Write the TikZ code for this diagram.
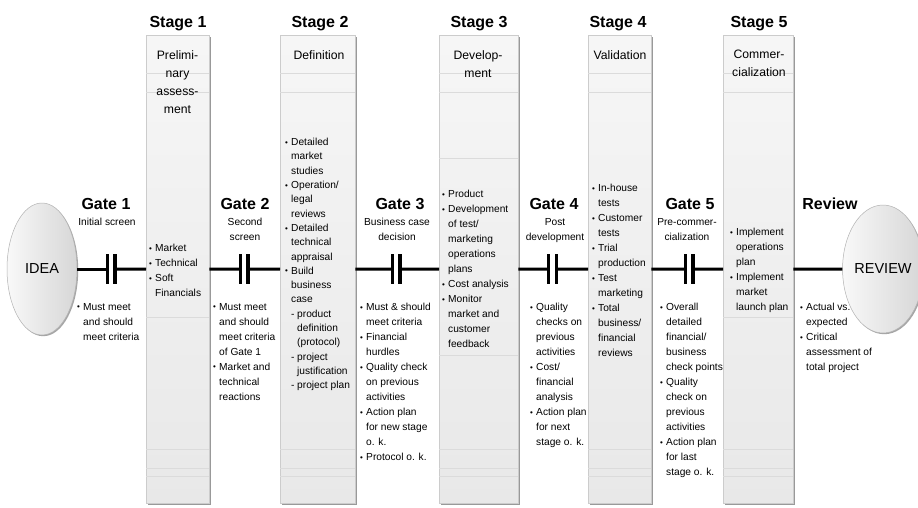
\documentclass[tikz,border=0pt]{standalone}
\usepackage{fontspec}
\setmainfont{Liberation Sans}
\usetikzlibrary{shapes.geometric,shadows}
\newcommand\mybul{\makebox[6pt][l]{\fontsize{8}{8}\selectfont\raisebox{0.3pt}{•}}}
\newcommand\mycont{\hspace*{6pt}}
\newcommand\mydash{\hspace*{6pt}\makebox[6pt][l]{-}}
\newcommand\mycontt{\hspace*{12pt}}
\tikzset{
  col/.style={draw=gray!40, line width=0.4pt, top color=gray!7, bottom color=gray!18,
    inner sep=0pt, anchor=north west, minimum height=468pt,
    drop shadow={shadow xshift=1.8pt, shadow yshift=-1.8pt, fill=gray!80, opacity=1}},
  faint/.style={draw=gray!28, line width=0.5pt},
  stagetitle/.style={font=\fontsize{16}{18}\selectfont\bfseries, anchor=base, inner sep=0pt},
  gatesub/.style={font=\fontsize{10.2}{15}\selectfont, align=center, anchor=north, inner sep=0pt},
  colhead/.style={font=\fontsize{12.2}{18}\selectfont, align=center, anchor=north, inner sep=0pt},
  body/.style={font=\fontsize{10.2}{15}\selectfont, align=left, anchor=north west, inner sep=0pt},
  oval/.style={ellipse, draw=gray!60, line width=0.5pt, left color=gray!5, right color=gray!32,
    inner sep=0pt, minimum width=70pt, font=\fontsize{14.5}{16}\selectfont,
    drop shadow={shadow xshift=1.2pt, shadow yshift=-1.2pt, fill=gray!70, opacity=1}},
  flow/.style={line width=3pt},
  gatebar/.style={line width=3.4pt}
}
\begin{document}
\begin{tikzpicture}[x=1pt,y=-1pt]
\useasboundingbox[fill=white] (0,0) rectangle (918,507);

% stage columns
\node[col, minimum width=63pt] (s1) at (146,35) {};
\node[col, minimum width=75pt] (s2) at (280,35) {};
\node[col, minimum width=79pt] (s3) at (439,35) {};
\node[col, minimum width=63pt] (s4) at (588,35) {};
\node[col, minimum width=70pt] (s5) at (723,35) {};
\foreach \c in {s1,s2,s3,s4,s5}{
  \foreach \yy in {73,92,449,468,476}{
    \draw[faint] (\c.west |- 0,\yy) -- (\c.east |- 0,\yy);
  }
}
\draw[faint] (s3.west |- 0,158) -- (s3.east |- 0,158);
\draw[faint] (s3.west |- 0,355) -- (s3.east |- 0,355);
\draw[faint] (s1.west |- 0,317) -- (s1.east |- 0,317);
\draw[faint] (s5.west |- 0,317) -- (s5.east |- 0,317);

% end ellipses
\node[oval, minimum height=132pt] (idea) at (42,269) {IDEA};
\node[oval, minimum height=128pt] (review) at (883,269) {REVIEW};

% gate positions
\coordinate (g1) at (111,269);
\coordinate (g2) at (244,269);
\coordinate (g3) at (396,269);
\coordinate (g4) at (552.5,269);
\coordinate (g5) at (689,269);

\foreach \a/\g/\b in {idea/g1/s1, s1/g2/s2, s2/g3/s3, s3/g4/s4, s4/g5/s5}{
  \draw[flow] (\a.east) -- ([xshift=-3.8pt]\g);
  \draw[flow] ([xshift=3.8pt]\g) -- (\b.west);
  \draw[gatebar] ([xshift=-3.8pt,yshift=15pt]\g) -- ([xshift=-3.8pt,yshift=-15pt]\g);
  \draw[gatebar] ([xshift=3.8pt,yshift=15pt]\g) -- ([xshift=3.8pt,yshift=-15pt]\g);
}
\draw[flow] (s5.east) -- (review.west);

% stage titles
\node[stagetitle] (t1) at (178,27) {Stage 1};
\node[stagetitle] (t2) at (320,27) {Stage 2};
\node[stagetitle] (t3) at (479,27) {Stage 3};
\node[stagetitle] (t4) at (618,27) {Stage 4};
\node[stagetitle] (t5) at (759,27) {Stage 5};

% column headers
\node[colhead] (h1) at (177.5,50) {Prelimi-\\nary\\assess-\\ment};
\node[colhead] (h2) at (319,50) {Definition};
\node[colhead] (h3) at (478,50) {Develop-\\ment};
\node[colhead] (h4) at (620,50) {Validation};
\node[colhead] (h5) at (759,50) {Commer-\\cialization};

% gate titles
\node[stagetitle] (gt1) at (106,209) {Gate 1};
\node[stagetitle] (gt2) at (245,209) {Gate 2};
\node[stagetitle] (gt3) at (400,209) {Gate 3};
\node[stagetitle] (gt4) at (554,209) {Gate 4};
\node[stagetitle] (gt5) at (690,209) {Gate 5};
\node[stagetitle] (gtr) at (830,209) {Review};

\node[gatesub] (gs1) at (107,218) {Initial screen};
\node[gatesub] (gs2) at (245,218) {Second\\screen};
\node[gatesub] (gs3) at (397,218) {Business case\\decision};
\node[gatesub] (gs4) at (555,218) {Post\\development};
\node[gatesub] (gs5) at (687,218) {Pre-commer-\\cialization};

% gate texts
\node[body] (b1) at (77,303) {\mybul Must meet\\ \mycont and should\\ \mycont meet criteria};
\node[body] (b2) at (213,303) {\mybul Must meet\\ \mycont and should\\ \mycont meet criteria\\ \mycont of Gate 1\\ \mybul Market and\\ \mycont technical\\ \mycont reactions};
\node[body] (b3) at (360,303) {\mybul Must \& should\\ \mycont meet criteria\\ \mybul Financial\\ \mycont hurdles\\ \mybul Quality check\\ \mycont on previous\\ \mycont activities\\ \mybul Action plan\\ \mycont for new stage\\ \mycont o. k.\\ \mybul Protocol o. k.};
\node[body] (b4) at (530,303) {\mybul Quality\\ \mycont checks on\\ \mycont previous\\ \mycont activities\\ \mybul Cost/\\ \mycont financial\\ \mycont analysis\\ \mybul Action plan\\ \mycont for next\\ \mycont stage o. k.};
\node[body] (b5) at (660,303) {\mybul Overall\\ \mycont detailed\\ \mycont financial/\\ \mycont business\\ \mycont check points\\ \mybul Quality\\ \mycont check on\\ \mycont previous\\ \mycont activities\\ \mybul Action plan\\ \mycont for last\\ \mycont stage o. k.};
\node[body] (br) at (800,303) {\mybul Actual vs.\\ \mycont expected\\ \mybul Critical\\ \mycont assessment of\\ \mycont total project};

% stage texts
\node[body] (c1) at (149,244) {\mybul Market\\ \mybul Technical\\ \mybul Soft\\ \mycont Financials};
\node[body, font=\fontsize{10.2}{14.3}\selectfont] (c2) at (285,138) {\mybul Detailed\\ \mycont market\\ \mycont studies\\ \mybul Operation/\\ \mycont legal\\ \mycont reviews\\ \mybul Detailed\\ \mycont technical\\ \mycont appraisal\\ \mybul Build\\ \mycont business\\ \mycont case\\ \mydash product\\ \mycontt definition\\ \mycontt (protocol)\\ \mydash project\\ \mycontt justification\\ \mydash project plan};
\node[body] (c3) at (442,190) {\mybul Product\\ \mybul Development\\ \mycont of test/\\ \mycont marketing\\ \mycont operations\\ \mycont plans\\ \mybul Cost analysis\\ \mybul Monitor\\ \mycont market and\\ \mycont customer\\ \mycont feedback};
\node[body] (c4) at (592,184) {\mybul In-house\\ \mycont tests\\ \mybul Customer\\ \mycont tests\\ \mybul Trial\\ \mycont production\\ \mybul Test\\ \mycont marketing\\ \mybul Total\\ \mycont business/\\ \mycont financial\\ \mycont reviews};
\node[body] (c5) at (730,228) {\mybul Implement\\ \mycont operations\\ \mycont plan\\ \mybul Implement\\ \mycont market\\ \mycont launch plan};
\end{tikzpicture}
\end{document}
